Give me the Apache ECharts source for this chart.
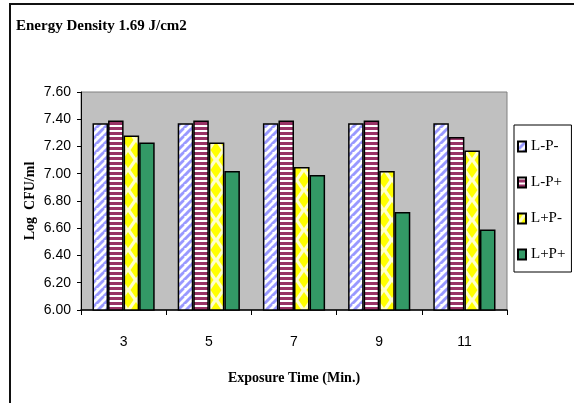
<!DOCTYPE html>
<html>
<head>
<meta charset="utf-8">
<script src="https://cdn.jsdelivr.net/npm/echarts@6/dist/echarts.min.js"></script>
<style>html,body{margin:0;padding:0;background:#fff;}#c{width:574px;height:403px;}</style>
</head>
<body>
<div id="c"></div>
<script>
var categories = ['3', '5', '7', '9', '11'];
var seriesNames = ['L-P-', 'L-P+', 'L+P-', 'L+P+'];
var lpMinus = [7.37, 7.37, 7.37, 7.37, 7.37];
var lpPlus = [7.39, 7.39, 7.39, 7.39, 7.27];
var lPlusPMinus = [7.28, 7.23, 7.05, 7.02, 7.17];
var lPlusPPlus = [7.23, 7.02, 6.99, 6.72, 6.59];
var yTicks = [6.0, 6.2, 6.4, 6.6, 6.8, 7.0, 7.2, 7.4, 7.6];

function makeCanvas(w, h, draw) {
  var c = document.createElement('canvas');
  c.width = w; c.height = h;
  draw(c.getContext('2d'), w, h);
  return c;
}
var diagTile = makeCanvas(8, 8, function (g, w, h) {
  g.fillStyle = '#ffffff'; g.fillRect(0, 0, w, h);
  g.strokeStyle = '#9999ff'; g.lineWidth = 2.6;
  [[-8, 8], [0, 8], [8, 8]].forEach(function (p) {
    g.beginPath(); g.moveTo(p[0], 8 + 0); g.lineTo(p[0] + 8, 0); g.stroke();
    g.beginPath(); g.moveTo(p[0] - 0, 16); g.lineTo(p[0] + 16, 0); g.stroke();
  });
});
var horizTile = makeCanvas(4, 5, function (g, w, h) {
  g.fillStyle = '#ffffff'; g.fillRect(0, 0, w, h);
  g.fillStyle = '#993366'; g.fillRect(0, 2, w, 3);
});
var diamondTile = makeCanvas(16, 20, function (g, w, h) {
  g.fillStyle = '#ffffcc'; g.fillRect(0, 0, w, h);
  g.fillStyle = '#ffff00';
  function dia(cx, cy) {
    g.beginPath(); g.moveTo(cx, cy - 8); g.lineTo(cx + 5.5, cy); g.lineTo(cx, cy + 8); g.lineTo(cx - 5.5, cy); g.closePath(); g.fill();
  }
  dia(8, 10); dia(0, 0); dia(16, 0); dia(0, 20); dia(16, 20);
});

var fills = [
  { image: diagTile, repeat: 'repeat' },
  { image: horizTile, repeat: 'repeat' },
  { image: diamondTile, repeat: 'repeat' },
  '#339966'
];
var dataSets = [lpMinus, lpPlus, lPlusPMinus, lPlusPPlus];

var chart = echarts.init(document.getElementById('c'), null, { renderer: 'canvas' });
var serif = '"Liberation Serif", "Times New Roman", serif';
var sans = '"Liberation Sans", Arial, sans-serif';

chart.setOption({
  animation: false,
  backgroundColor: '#ffffff',
  title: {
    text: 'Energy Density 1.69 J/cm2',
    left: 11, top: 14,
    textStyle: { fontFamily: serif, fontWeight: 'bold', fontSize: 15, color: '#000' }
  },
  graphic: [{
    type: 'rect', silent: true, z: 100,
    shape: { x: 10, y: 4, width: 700, height: 600 },
    style: { fill: 'none', stroke: '#111', lineWidth: 2 }
  }],
  legend: {
    orient: 'vertical',
    left: 514, top: 125,
    padding: [14, 6, 10, 3],
    itemGap: 21,
    itemWidth: 8, itemHeight: 10,
    borderColor: '#000', borderWidth: 1,
    icon: 'rect',
    textStyle: { fontFamily: serif, fontSize: 15, color: '#000', padding: [0, 0, 0, 0] },
    data: seriesNames
  },
  grid: {
    left: 81, right: 67, top: 92, bottom: 93,
    show: true, backgroundColor: '#c0c0c0', borderColor: '#808080', borderWidth: 1
  },
  xAxis: {
    type: 'category',
    data: categories,
    boundaryGap: true,
    name: 'Exposure Time (Min.)',
    nameLocation: 'middle',
    nameGap: 61,
    nameMoveOverlap: false,
    nameTextStyle: { fontFamily: serif, fontWeight: 'bold', fontSize: 14, color: '#000' },
    axisLine: { lineStyle: { color: '#000', width: 1.5 } },
    axisTick: { show: true, length: 5, lineStyle: { color: '#000' } },
    axisLabel: { margin: 25, fontFamily: sans, fontSize: 14, color: '#000' },
    splitLine: { show: false }
  },
  yAxis: {
    type: 'value',
    min: yTicks[0], max: yTicks[yTicks.length - 1], interval: 0.2,
    name: 'Log  CFU/ml',
    nameLocation: 'middle',
    nameGap: 44,
    nameMoveOverlap: false,
    nameTextStyle: { fontFamily: serif, fontWeight: 'bold', fontSize: 14, color: '#000' },
    axisLine: { show: true, lineStyle: { color: '#000', width: 1 } },
    axisTick: { show: true, length: 4, lineStyle: { color: '#000' } },
    axisLabel: { margin: 10, fontFamily: sans, fontSize: 14, color: '#000',
      formatter: function (v) { return v.toFixed(2); } },
    splitLine: { show: false }
  },
  series: seriesNames.map(function (n, i) {
    return {
      name: n,
      type: 'bar',
      data: dataSets[i],
      barGap: '0%',
      barCategoryGap: '27%',
      itemStyle: { color: fills[i], borderColor: '#000', borderWidth: 1.5 }
    };
  })
});
</script>
</body>
</html>
